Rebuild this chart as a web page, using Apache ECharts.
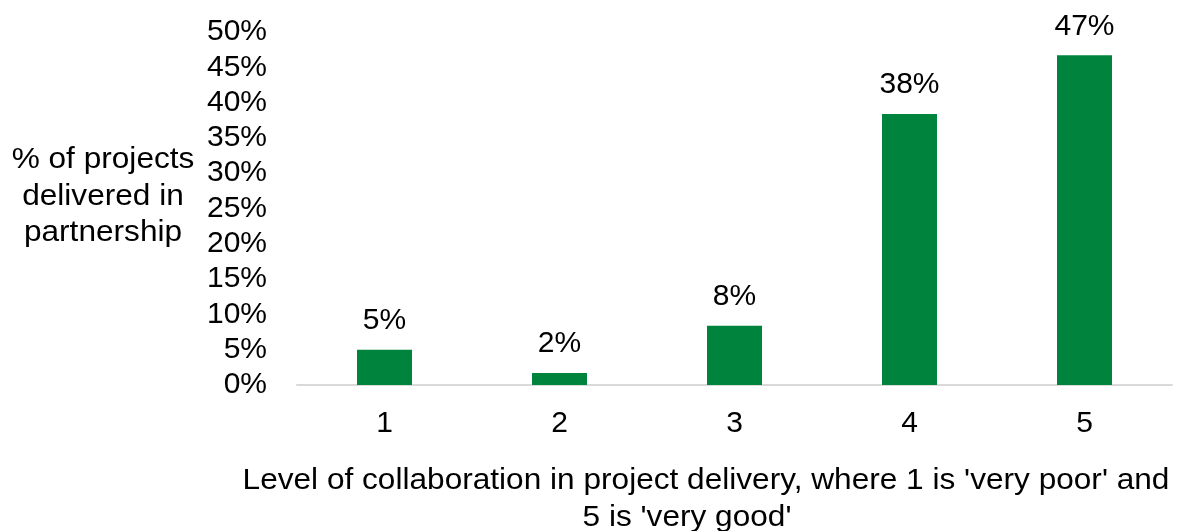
<!DOCTYPE html>
<html>
	<head>
		<meta charset="utf-8">
		<title>Collaboration chart</title>
		<style type="text/css">
			* {
				margin: 0;
				padding: 0;
			}

			html,
			body {
				width: 100%;
				height: 100%;
				background: #fff;
			}

			#box1 {
				width: 1179px;
				height: 531px;
			}
		</style>
	</head>
	<body>
		<div id="box1"></div>
		<script src="https://cdn.jsdelivr.net/npm/echarts@6/dist/echarts.min.js"></script>
		<script type="text/javascript">
			var levels = ['1', '2', '3', '4', '5']
			var shares = [0.050, 0.017, 0.084, 0.384, 0.467]
			var yTicks = [0, 0.05, 0.1, 0.15, 0.2, 0.25, 0.3, 0.35, 0.4, 0.45, 0.5]

			var font = 'Liberation Sans, Arial, sans-serif'

			function pct(v) {
				return Math.round(v * 100) + '%'
			}

			// text block helper, stretched a bit wider like the original
			function label(txt, x, y) {
				return {
					type: 'text',
					x: x,
					y: y,
					scaleX: 1.09,
					style: {
						text: txt,
						align: 'center',
						verticalAlign: 'middle',
						fontSize: 29,
						fill: '#000',
						fontFamily: font
					}
				}
			}

			window.onload = function() {
				var myChart1 = echarts.init(document.getElementById('box1'));
				var option1 = {
					animation: false,
					textStyle: {
						fontFamily: font
					},
					grid: {
						left: 297,
						right: 7,
						top: 32,
						bottom: 146
					},
					xAxis: {
						type: 'category',
						data: levels,
						axisLine: {
							lineStyle: {
								color: '#d9d9d9',
								width: 2
							}
						},
						axisTick: {
							show: false
						},
						axisLabel: {
							color: '#000',
							fontSize: 30,
							margin: 24,
							fontFamily: font
						}
					},
					yAxis: {
						type: 'value',
						min: yTicks[0],
						max: yTicks[yTicks.length - 1],
						interval: 0.05,
						splitLine: {
							show: false
						},
						axisLine: {
							show: false
						},
						axisTick: {
							show: false
						},
						axisLabel: {
							color: '#000',
							fontSize: 30,
							margin: 30,
							fontFamily: font,
							formatter: function(v) {
								return pct(v)
							}
						}
					},
					series: [{
						type: 'bar',
						data: shares,
						barWidth: 55,
						itemStyle: {
							color: '#00843d'
						},
						label: {
							show: true,
							position: 'top',
							distance: 14,
							color: '#000',
							fontSize: 30,
							fontFamily: font,
							formatter: function(p) {
								return pct(p.value)
							}
						}
					}],
					graphic: [
						label('% of projects', 103, 160),
						label('delivered in', 103, 197),
						label('partnership', 103, 233),
						label("Level of collaboration in project delivery, where 1 is 'very poor' and", 706, 481),
						label("5 is 'very good'", 687, 518)
					]
				};
				myChart1.setOption(option1);
			}
		</script>
	</body>
</html>
